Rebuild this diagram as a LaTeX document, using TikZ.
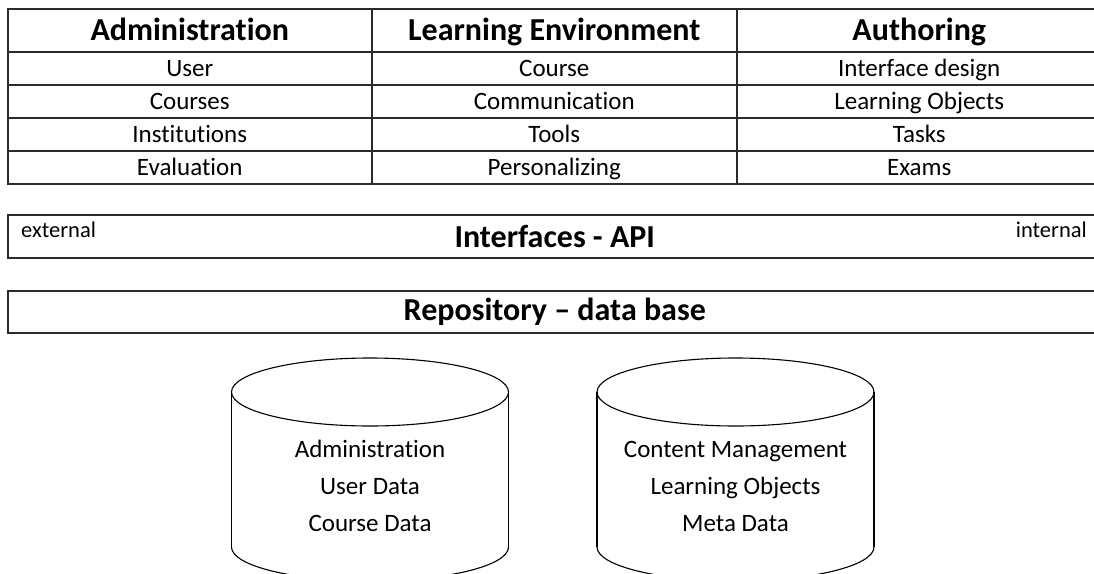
\documentclass[tikz,border=0pt]{standalone}
\usepackage{fontspec}
\setmainfont{Carlito}[Ligatures=NoCommon]
\definecolor{rulec}{HTML}{2B2B2B}
\begin{document}
\begin{tikzpicture}[x=1pt,y=-1pt,
  cell/.style={draw=rulec, line width=1.5pt, rectangle, inner sep=0pt, anchor=north west,
    minimum height=33pt, text height=21pt, text depth=5pt, font=\fontsize{25}{30}\selectfont},
  head/.style={cell, minimum height=43pt, text height=27pt, text depth=6pt,
    font=\bfseries\fontsize{32}{38}\selectfont},
  band/.style={draw=rulec, line width=1.5pt, rectangle, inner sep=0pt, anchor=north west,
    minimum width=1094pt, font=\bfseries\fontsize{32}{38}\selectfont},
  tag/.style={inner sep=0pt, font=\fontsize{22.5}{26}\selectfont},
  drum/.style={draw=black, line width=1.1pt},
  drumtext/.style={align=center, inner sep=0pt, font=\fontsize{25}{37}\selectfont}]
\useasboundingbox (0,0) rectangle (1094,573);
\clip (0,0) rectangle (1094,573);

% module table
\node[head, minimum width=364pt] (h1) at (7,8)   {Administration};
\node[head, minimum width=365pt] (h2) at (371,8) {Learning Environment};
\node[head, minimum width=365pt] (h3) at (736,8) {Authoring};

\node[cell, minimum width=364pt] (a1) at (7,51)  {User};
\node[cell, minimum width=364pt] (a2) at (7,84)  {Courses};
\node[cell, minimum width=364pt] (a3) at (7,117) {Institutions};
\node[cell, minimum width=364pt] (a4) at (7,150) {Evaluation};

\node[cell, minimum width=365pt] (b1) at (371,51)  {Course};
\node[cell, minimum width=365pt] (b2) at (371,84)  {Communication};
\node[cell, minimum width=365pt] (b3) at (371,117) {Tools};
\node[cell, minimum width=365pt] (b4) at (371,150) {Personalizing};

\node[cell, minimum width=365pt] (c1) at (736,51)  {Interface design};
\node[cell, minimum width=365pt] (c2) at (736,84)  {Learning Objects};
\node[cell, minimum width=365pt] (c3) at (736,117) {Tasks};
\node[cell, minimum width=365pt] (c4) at (736,150) {Exams};

% interface layer
\node[band, minimum height=43pt, text height=28pt, text depth=6pt] (api) at (7,214) {Interfaces - API};
\node[tag, anchor=base west] (ext) at (21,237) {external};
\node[tag, anchor=base east] (int) at (1087,237) {internal};

% repository layer
\node[band, minimum height=42pt, text height=25pt, text depth=7pt] (repo) at (7,290) {Repository – data base};

% data stores
\foreach \cx in {370,735.5}{
  \draw[drum] (\cx,392) ellipse [x radius=138.5, y radius=34];
  \draw[drum] (\cx-138.5,392) -- (\cx-138.5,547);
  \draw[drum] (\cx+138.5,392) -- (\cx+138.5,547);
  \begin{scope}
    \clip (\cx-141,547) rectangle (\cx+141,600);
    \draw[drum] (\cx,547) ellipse [x radius=138.5, y radius=34];
  \end{scope}
}
\node[drumtext] (db1) at (370,486) {Administration\\User Data\\Course Data};
\node[drumtext] (db2) at (735.5,486) {Content Management\\Learning Objects\\Meta Data};
\end{tikzpicture}
\end{document}
